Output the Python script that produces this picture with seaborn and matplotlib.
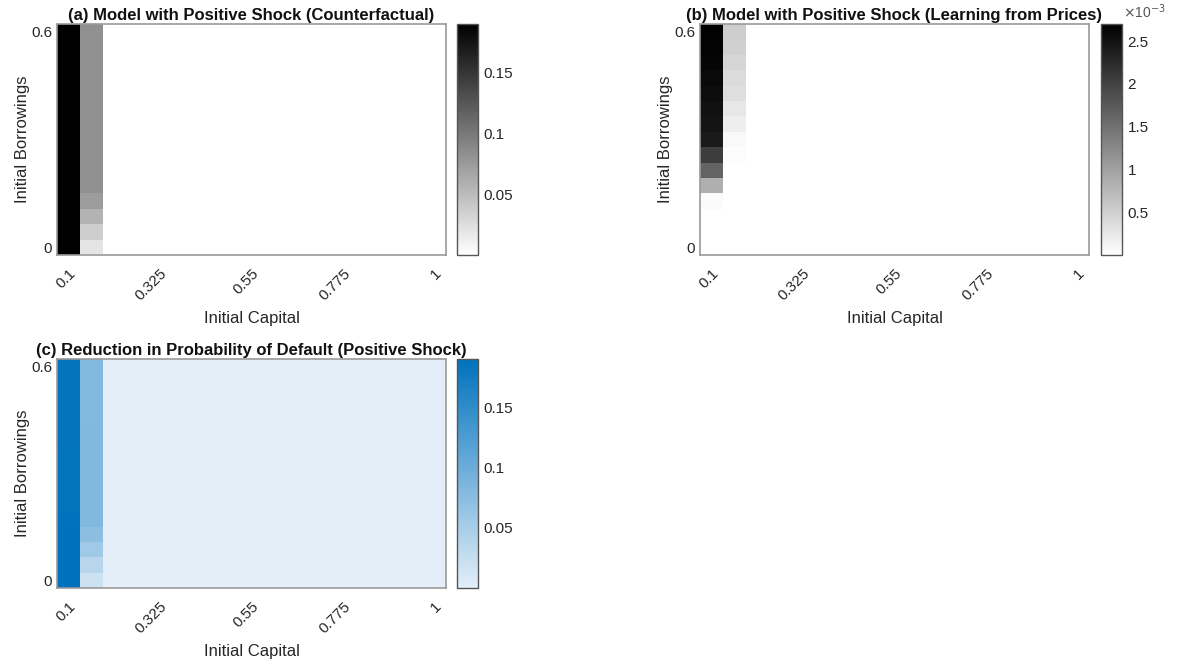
import numpy as np
import pandas as pd
import matplotlib
matplotlib.use("Agg")
import matplotlib.pyplot as plt
import seaborn as sns
from matplotlib.colors import LinearSegmentedColormap

# ---------------- data ----------------
capital = [0.1, 0.15625, 0.2125, 0.26875, 0.325, 0.38125, 0.4375, 0.49375, 0.55,
           0.60625, 0.6625, 0.71875, 0.775, 0.83125, 0.8875, 0.94375, 1.0]
borrow = [0.0, 0.0429, 0.0857, 0.1286, 0.1714, 0.2143, 0.2571, 0.3, 0.3429,
          0.3857, 0.4286, 0.4714, 0.5143, 0.5571, 0.6]
xtick_vals = [0.1, 0.325, 0.55, 0.775, 1.0]
xtick_labels = ["0.1", "0.325", "0.55", "0.775", "1"]
ytick_vals = [0.0, 0.6]
ytick_labels = ["0", "0.6"]

# columns listed bottom (borrowing 0) -> top (borrowing 0.6); other capital columns are 0
a_col1 = [0.19, 0.19, 0.19, 0.19, 0.19, 0.19, 0.19, 0.19, 0.19, 0.19, 0.19, 0.19, 0.19, 0.19, 0.19]
a_col2 = [0.020, 0.037, 0.057, 0.074, 0.083, 0.083, 0.083, 0.083, 0.083, 0.083, 0.083, 0.083, 0.083, 0.083, 0.083]

b_col1 = [0.0, 0.0, 0.0, 0.05e-3, 0.85e-3, 1.65e-3, 2.05e-3, 2.42e-3, 2.48e-3, 2.52e-3,
          2.56e-3, 2.60e-3, 2.64e-3, 2.66e-3, 2.68e-3]
b_col2 = [0.0, 0.0, 0.0, 0.0, 0.0, 0.0, 0.03e-3, 0.07e-3, 0.18e-3, 0.26e-3, 0.35e-3,
          0.39e-3, 0.45e-3, 0.50e-3, 0.53e-3]

c_col1 = [0.19, 0.19, 0.19, 0.19, 0.189, 0.188, 0.188, 0.188, 0.188, 0.187, 0.187, 0.187, 0.187, 0.187, 0.187]
c_col2 = [0.020, 0.037, 0.057, 0.074, 0.083, 0.083, 0.083, 0.083, 0.083, 0.083, 0.083, 0.082, 0.082, 0.082, 0.082]

titles = ["(a) Model with Positive Shock (Counterfactual)",
          "(b) Model with Positive Shock (Learning from Prices)",
          "(c) Reduction in Probability of Default (Positive Shock)"]


def build(col1, col2):
    m = np.zeros((len(borrow), len(capital)))
    m[:, 0] = col1
    m[:, 1] = col2
    df = pd.DataFrame(m, index=borrow, columns=capital)
    return df.iloc[::-1]  # top row = highest borrowing


# ---------------- style ----------------
sns.set_style("white")
plt.rcParams['font.family'] = ['Liberation Sans', 'DejaVu Sans']
TXT = '#262626'

W, H = 1177, 663
fig = plt.figure(figsize=(W / 100, H / 100), dpi=100)


def rect(l, r, t, b):
    return [l / W, (H - b) / H, (r - l) / W, (b - t) / H]


gray_cmap = LinearSegmentedColormap.from_list('wg', ['#ffffff', '#000000'])
blue_cmap = LinearSegmentedColormap.from_list('wb', ['#e3eef8', '#0072bd'])

panels = [
    dict(data=build(a_col1, a_col2), cmap=gray_cmap, vmin=0.0, vmax=0.19,
         ax=rect(57, 446, 24, 255), cax=rect(457, 478, 24, 255),
         cticks=[0.05, 0.1, 0.15], clabels=["0.05", "0.1", "0.15"], sci=False),
    dict(data=build(b_col1, b_col2), cmap=gray_cmap, vmin=0.0, vmax=2.7e-3,
         ax=rect(700, 1089, 24, 255), cax=rect(1101, 1122, 24, 255),
         cticks=[0.5e-3, 1e-3, 1.5e-3, 2e-3, 2.5e-3], clabels=["0.5", "1", "1.5", "2", "2.5"], sci=True),
    dict(data=build(c_col1, c_col2), cmap=blue_cmap, vmin=0.0, vmax=0.19,
         ax=rect(57, 446, 359, 588), cax=rect(457, 478, 359, 588),
         cticks=[0.05, 0.1, 0.15], clabels=["0.05", "0.1", "0.15"], sci=False),
]

for p, title in zip(panels, titles):
    ax = fig.add_axes(p['ax'])
    cax = fig.add_axes(p['cax'])
    df = p['data']
    sns.heatmap(df, ax=ax, cbar_ax=cax, cmap=p['cmap'], vmin=p['vmin'], vmax=p['vmax'],
                xticklabels=False, yticklabels=False)
    # x ticks at cell centres of the listed capital values
    cols = list(df.columns)
    xt = [cols.index(v) + 0.5 for v in xtick_vals]
    ax.set_xticks(xt)
    ax.set_xticklabels(xtick_labels, rotation=45, ha='right', va='top',
                       rotation_mode='anchor', fontsize=11, color=TXT)
    rows = list(df.index)
    yt = [rows.index(v) + 0.5 for v in ytick_vals]
    ax.set_yticks(yt)
    ax.set_yticklabels(ytick_labels, rotation=0, fontsize=11, color=TXT)
    ax.tick_params(axis='y', direction='in', length=0, pad=3.5)
    ax.tick_params(axis='x', direction='in', length=0, pad=8)
    ax.set_xlabel("Initial Capital", fontsize=12, color=TXT, labelpad=6)
    ax.set_ylabel("Initial Borrowings", fontsize=12, color=TXT, labelpad=1)
    ax.set_title(title, fontsize=12, fontweight='bold', color='#111111', pad=3)
    for sp in ax.spines.values():
        sp.set_visible(True)
        sp.set_color('#9a9a9a')
        sp.set_linewidth(1.2)

    cb = ax.collections[0].colorbar
    cb.set_ticks(p['cticks'])
    cb.set_ticklabels(p['clabels'])
    cax.tick_params(direction='in', length=3, width=0.8, colors=TXT, labelsize=11, pad=4)
    cb.outline.set_visible(True)
    cb.outline.set_edgecolor('#555555')
    cb.outline.set_linewidth(1.0)
    if p['sci']:
        cax.text(1.05, 1.012, r'$\times$10$^{-3}$', transform=cax.transAxes,
                 fontsize=10, color='#555555', ha='left', va='bottom')

fig.savefig("out.png", dpi=100)
